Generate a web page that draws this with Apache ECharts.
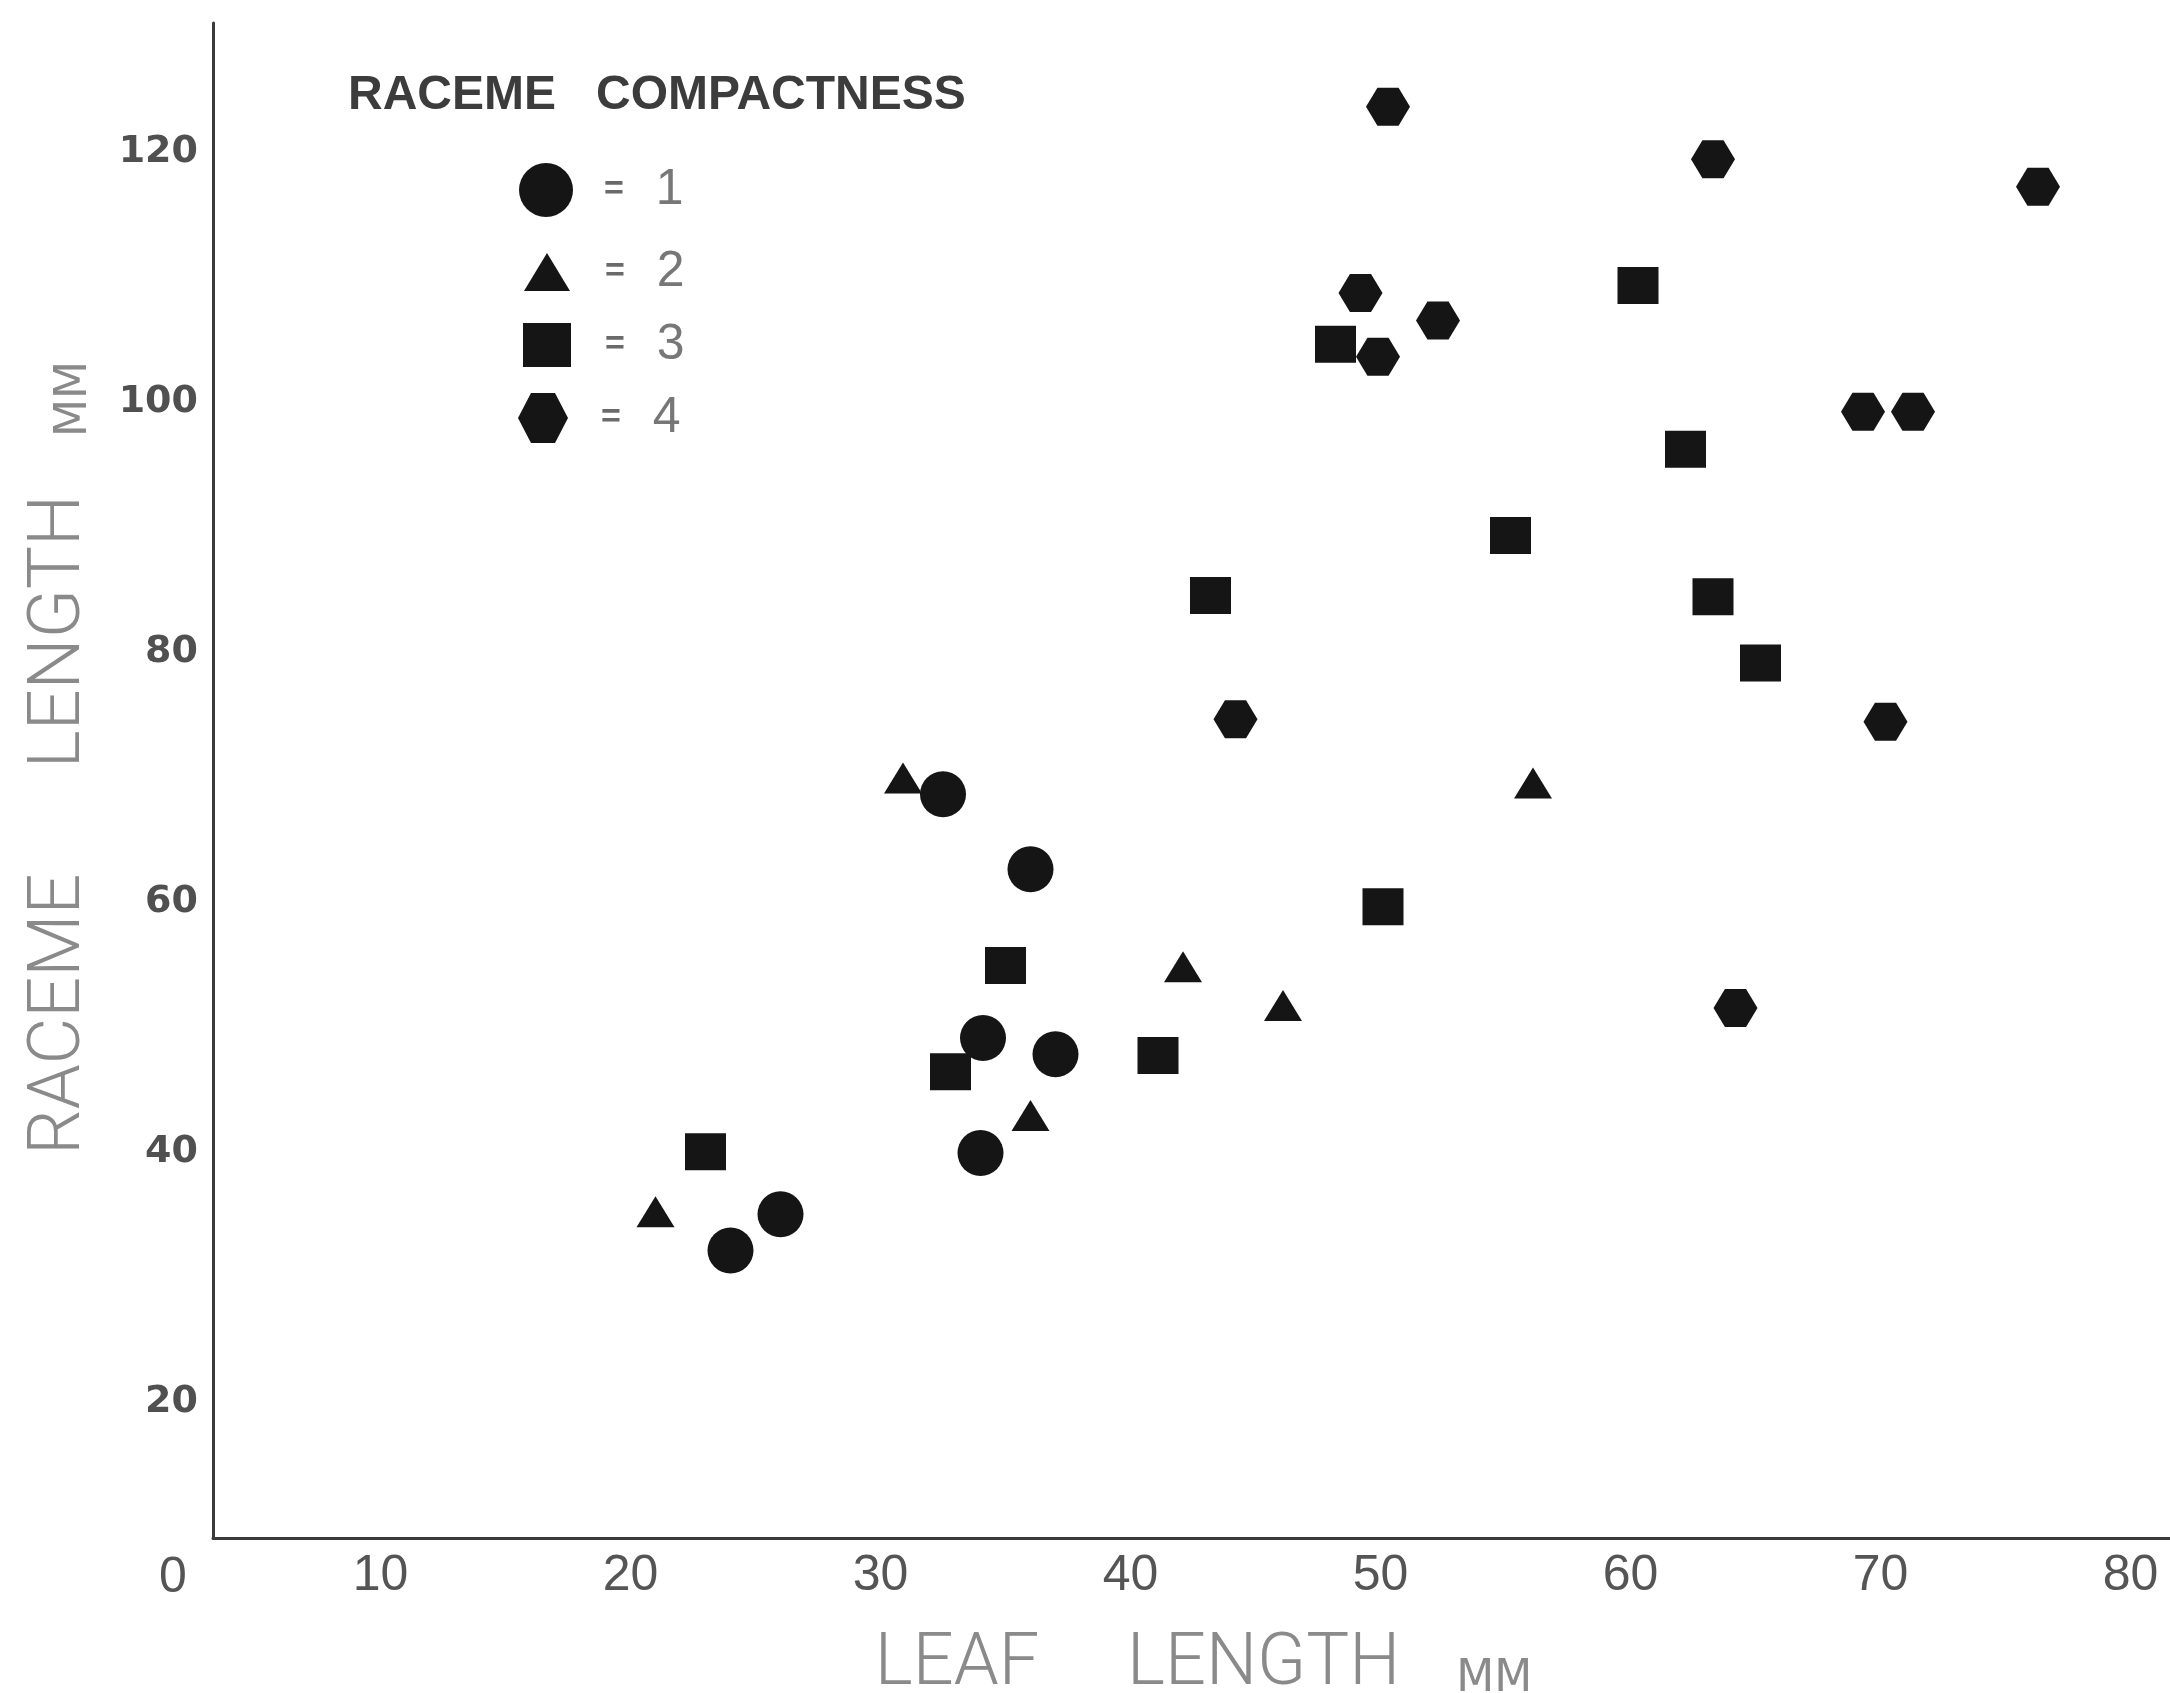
<!DOCTYPE html>
<html>
<head>
<meta charset="utf-8">
<script src="https://cdn.jsdelivr.net/npm/echarts@6/dist/echarts.min.js"></script>
<style>
  html, body { margin: 0; padding: 0; background: #ffffff; }
  #chart { width: 2170px; height: 1693px; }
</style>
</head>
<body>
<div id="chart"></div>
<script>
// Leaf length (mm) against raceme length (mm), one series per raceme compactness class.
// Each point is [leaf length, raceme length].
const compact1 = [[32.5, 68.3], [36.0, 62.3], [34.1, 48.8], [37.0, 47.5], [34.0, 39.6], [26.0, 34.7], [24.0, 31.8]];
const compact2 = [[30.9, 69.6], [21.0, 34.9], [36.0, 42.6], [42.1, 54.5], [46.1, 51.4], [56.1, 69.2]];
const compact3 = [[23.0, 39.7], [32.8, 46.1], [35.0, 54.6], [41.1, 47.4], [43.2, 84.2], [48.2, 104.3],
                  [50.1, 59.3], [55.2, 89.0], [60.3, 109.0], [62.2, 95.9], [63.3, 84.1], [65.2, 78.8]];
const compact4 = [[50.3, 123.3], [63.3, 119.1], [76.3, 116.9], [49.2, 108.4], [52.3, 106.2], [49.9, 103.3],
                  [69.3, 98.9], [71.3, 98.9], [70.2, 74.1], [64.2, 51.2], [44.2, 74.3]];

const classNames = ['1', '2', '3', '4'];
const xTickValues = [10, 20, 30, 40, 50, 60, 70, 80];
const yTickValues = [20, 40, 60, 80, 100, 120];

const markColor = '#151515';
const hexagon = 'path://M0,5 L2.6,0 L7.4,0 L10,5 L7.4,10 L2.6,10 Z';
const titleFont = 'Roboto, "Liberation Sans", sans-serif';

const seriesDefs = [
  { data: compact1, symbol: 'circle',   size: [46, 46], legendSize: [56, 54] },
  { data: compact2, symbol: 'triangle', size: [38, 31], legendSize: [46, 38] },
  { data: compact3, symbol: 'rect',     size: [41, 37], legendSize: [48, 44] },
  { data: compact4, symbol: hexagon,    size: [44, 38], legendSize: [58, 50] }
];

// legend rows: symbol centre x and row centre y
const legendCenterX = 547;
const legendRowY = [190, 266, 342, 418];
const legendTextX = 605;

const legends = seriesDefs.map((d, i) => {
  const [w, h] = d.legendSize;
  return {
    show: true,
    selectedMode: false,
    orient: 'vertical',
    data: [classNames[i]],
    left: legendCenterX - w / 2,
    top: legendRowY[i] - h / 2,
    padding: 0,
    itemGap: 0,
    itemWidth: w,
    itemHeight: h,
    formatter: name => '{eq|=}{n|' + name + '}',
    textStyle: {
      rich: {
        eq: {
          fontFamily: 'Liberation Sans', fontSize: 34, fontWeight: 'bold', color: '#6a6a6a',
          padding: [0, 32, 0, legendTextX - (legendCenterX + w / 2 + 5)]
        },
        n: { fontFamily: 'Liberation Sans', fontSize: 50, color: '#777777' }
      }
    }
  };
});

const chart = echarts.init(document.getElementById('chart'), null, { renderer: 'canvas' });

chart.setOption({
  backgroundColor: '#ffffff',
  animation: false,
  title: {
    text: 'RACEME   COMPACTNESS',
    left: 348,
    top: 72,
    padding: 0,
    textStyle: {
      fontFamily: 'Liberation Sans', fontWeight: 'bold', fontSize: 48, color: '#3c3c3c'
    }
  },
  legend: legends,
  grid: { left: 213, right: 0, top: 23, bottom: 155, outerBoundsMode: 'none', containLabel: false },
  xAxis: {
    type: 'value',
    min: 3.3,
    max: 81.58,
    splitLine: { show: false },
    axisTick: { show: false },
    axisLine: { show: true, lineStyle: { color: '#3a3a3a', width: 3 } },
    axisLabel: {
      customValues: xTickValues,
      margin: 13,
      fontFamily: 'Liberation Sans',
      fontSize: 50,
      color: '#555555'
    },
    name: '{a|LEAF     LENGTH}{b|MM}',
    nameLocation: 'middle',
    nameGap: 92,
    nameTextStyle: {
      padding: [0, 0, 0, 24],
      rich: {
        a: { fontFamily: titleFont, fontWeight: 300, fontSize: 72, color: '#8a8a8a', verticalAlign: 'bottom' },
        b: { fontFamily: 'DejaVu Sans', fontSize: 44, color: '#8a8a8a', verticalAlign: 'bottom', padding: [0, 0, 0, 56] }
      }
    }
  },
  yAxis: {
    type: 'value',
    min: 8.8,
    max: 130,
    splitLine: { show: false },
    axisTick: { show: false },
    axisLine: { show: true, lineStyle: { color: '#3a3a3a', width: 3 } },
    axisLabel: {
      customValues: yTickValues,
      margin: 15,
      formatter: v => '{v|' + v + '}',
      rich: {
        v: {
          padding: [9, 0, 0, 0],
          fontFamily: 'DejaVu Sans',
          fontWeight: 'bold',
          fontSize: 38,
          color: '#505050'
        }
      }
    },
    name: '{a|RACEME      LENGTH}{b|MM}',
    nameLocation: 'middle',
    nameRotate: 90,
    nameGap: 116,
    nameTextStyle: {
      padding: [0, 0, 0, 45],
      rich: {
        a: { fontFamily: titleFont, fontWeight: 300, fontSize: 72, color: '#8a8a8a', verticalAlign: 'bottom' },
        b: { fontFamily: 'DejaVu Sans', fontSize: 44, color: '#8a8a8a', verticalAlign: 'bottom', padding: [0, 0, 0, 58] }
      }
    }
  },
  graphic: [{
    type: 'text',
    x: 173,
    y: 1578,
    style: {
      text: '0',
      font: '50px "Liberation Sans"',
      fill: '#555555',
      align: 'center',
      verticalAlign: 'middle',
      textAlign: 'center',
      textVerticalAlign: 'middle'
    }
  }],
  series: seriesDefs.map((d, i) => ({
    name: classNames[i],
    type: 'scatter',
    data: d.data,
    symbol: d.symbol,
    symbolSize: d.size,
    symbolKeepAspect: false,
    itemStyle: { color: markColor, opacity: 1 },
    emphasis: { disabled: true }
  }))
});
</script>
</body>
</html>
